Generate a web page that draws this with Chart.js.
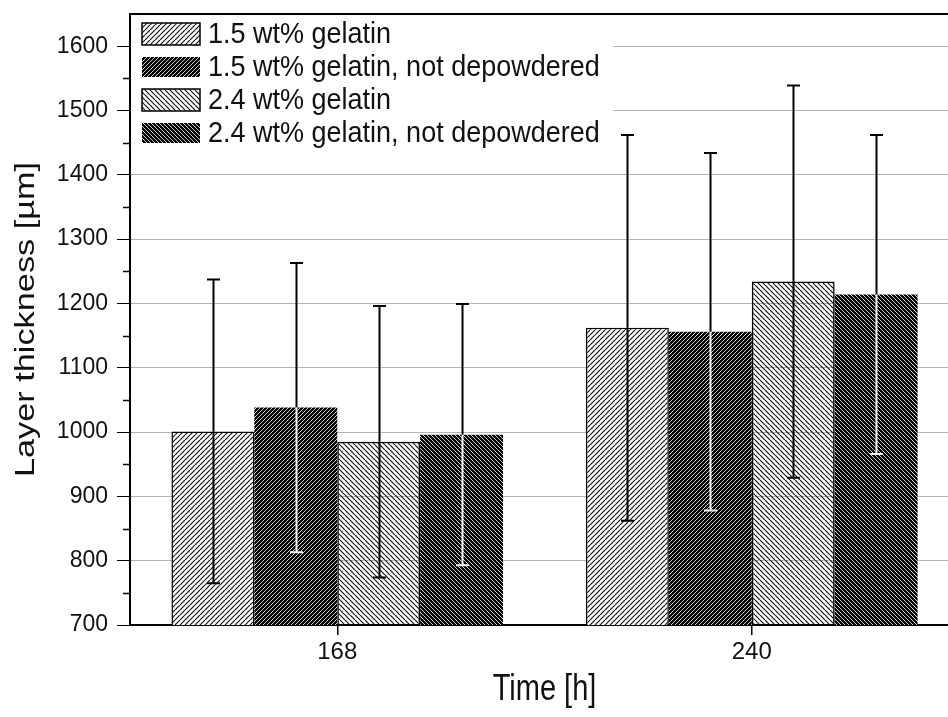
<!DOCTYPE html>
<html>
<head>
<meta charset="utf-8">
<script src="https://cdn.jsdelivr.net/npm/chart.js@4.4.1/dist/chart.umd.min.js"></script>
<style>
  html, body { margin: 0; padding: 0; background: #fff; overflow: hidden; }
  canvas { display: block; }
</style>
</head>
<body>
<canvas id="c" width="960" height="717"></canvas>
<script>
// Layer thickness after immersion, mean and standard deviation per sample set
const categories = ['168', '240'];
const seriesNames = [
  '1.5 wt% gelatin',
  '1.5 wt% gelatin, not depowdered',
  '2.4 wt% gelatin',
  '2.4 wt% gelatin, not depowdered'
];
const gel15 = [1001, 1162];
const gel15Err = [236, 300];
const gel15NotDep = [1038, 1156];
const gel15NotDepErr = [225, 278];
const gel24 = [985, 1234];
const gel24Err = [211, 305];
const gel24NotDep = [996, 1214];
const gel24NotDepErr = [203, 248];
const yTicks = [700, 800, 900, 1000, 1100, 1200, 1300, 1400, 1500, 1600];
const yMinorTicks = [750, 850, 950, 1050, 1150, 1250, 1350, 1450, 1550];
const xTitle = 'Time [h]';
const yTitle = 'Layer thickness [µm]';

const FONT = "'Liberation Sans', Arial, sans-serif";

// diagonal hatch fill; dir '/' or '\\'
function hatch(bg, fg, dir, size, lw) {
  const c = document.createElement('canvas');
  c.width = size; c.height = size;
  const g = c.getContext('2d');
  if (bg) { g.fillStyle = bg; g.fillRect(0, 0, size, size); }
  g.strokeStyle = fg; g.lineWidth = lw;
  g.beginPath();
  for (const k of [-size, 0, size]) {
    if (dir === '/') { g.moveTo(k, size); g.lineTo(k + size, 0); }
    else { g.moveTo(k, 0); g.lineTo(k + size, size); }
  }
  g.stroke();
  return g.createPattern(c, 'repeat');
}

const fills = [
  hatch('#ffffff', '#111', '/', 5, 1.2),
  hatch('#000000', '#e8e8e8', '/', 4, 0.9),
  hatch(null, '#111', '\\', 5, 1.2),
  hatch('#000000', '#e8e8e8', '\\', 4, 0.9)
];
const seriesValues = [gel15, gel15NotDep, gel24, gel24NotDep];
const seriesErrors = [gel15Err, gel15NotDepErr, gel24Err, gel24NotDepErr];
const darkSeries = [false, true, false, true];

const datasets = seriesNames.map((name, i) => ({
  label: name,
  data: seriesValues[i],
  errors: seriesErrors[i],
  dark: darkSeries[i],
  backgroundColor: fills[i],
  borderColor: '#000',
  borderWidth: darkSeries[i] ? 0 : 1.5,
  categoryPercentage: 0.8,
  barPercentage: 1.0
}));

const decorations = {
  id: 'decorations',
  beforeDatasetsDraw(chart) {
    const ctx = chart.ctx;
    const a = chart.chartArea;
    // legend panel blanks the grid behind it
    ctx.save();
    ctx.fillStyle = '#fff';
    ctx.fillRect(a.left + 1, a.top, 613 - a.left - 1, 160 - a.top);
    ctx.restore();
  },
  afterDatasetsDraw(chart) {
    const ctx = chart.ctx;
    const y = chart.scales.y;
    // error bars
    chart.data.datasets.forEach((ds, i) => {
      const meta = chart.getDatasetMeta(i);
      meta.data.forEach((bar, j) => {
        const v = ds.data[j], e = ds.errors[j];
        const yT = y.getPixelForValue(v + e);
        const yB = y.getPixelForValue(v - e);
        const yV = bar.y;
        const x = Math.round(bar.x) + 0.5;
        const cap = 6.5;
        ctx.save();
        ctx.lineWidth = 2;
        ctx.strokeStyle = '#000';
        ctx.beginPath();
        ctx.moveTo(x, yT); ctx.lineTo(x, yV);
        ctx.moveTo(x - cap, yT); ctx.lineTo(x + cap, yT);
        ctx.stroke();
        ctx.strokeStyle = ds.dark ? '#f4f4f4' : '#000';
        ctx.beginPath();
        ctx.moveTo(x, yV); ctx.lineTo(x, yB);
        ctx.moveTo(x - cap, yB); ctx.lineTo(x + cap, yB);
        ctx.stroke();
        ctx.restore();
      });
    });
    // legend
    ctx.save();
    const rows = [34, 67, 100, 133];
    chart.data.datasets.forEach((ds, i) => {
      const cy = rows[i];
      if (ds.dark) {
        ctx.fillStyle = ds.backgroundColor;
        ctx.fillRect(142, cy - 10, 58, 20);
      } else {
        ctx.fillStyle = ds.backgroundColor;
        ctx.fillRect(142, cy - 11, 58, 22);
        ctx.lineWidth = 1.5;
        ctx.strokeStyle = '#000';
        ctx.strokeRect(142, cy - 11, 58, 22);
      }
      ctx.save();
      ctx.fillStyle = '#111';
      ctx.font = '27px ' + FONT;
      ctx.textBaseline = 'middle';
      ctx.textAlign = 'left';
      ctx.translate(208, cy + 1);
      ctx.scale(1, 1.08);
      ctx.fillText(ds.label, 0, 0);
      ctx.restore();
    });
    ctx.restore();
  },
  afterDraw(chart) {
    const ctx = chart.ctx;
    const a = chart.chartArea;
    const y = chart.scales.y;
    ctx.save();
    // top frame
    ctx.strokeStyle = '#000';
    ctx.lineWidth = 2;
    ctx.beginPath();
    ctx.moveTo(a.left - 1, a.top); ctx.lineTo(chart.width, a.top);
    ctx.stroke();
    // minor ticks on the value axis
    ctx.lineWidth = 1.5;
    ctx.beginPath();
    yMinorTicks.forEach(v => {
      const py = Math.round(y.getPixelForValue(v)) + 0.5;
      ctx.moveTo(a.left - 7, py); ctx.lineTo(a.left, py);
    });
    ctx.stroke();
    // axis titles (tall lettering)
    ctx.fillStyle = '#111';
    ctx.textAlign = 'center';
    ctx.textBaseline = 'middle';
    ctx.save();
    ctx.font = '29px ' + FONT;
    ctx.translate((a.left + a.right) / 2, 690);
    ctx.scale(1, 1.25);
    ctx.fillText(xTitle, 0, 0);
    ctx.restore();
    ctx.save();
    ctx.font = '27px ' + FONT;
    ctx.translate(27, (a.top + a.bottom) / 2);
    ctx.rotate(-Math.PI / 2);
    ctx.scale(1.27, 1);
    ctx.fillText(yTitle, 0, 0);
    ctx.restore();
    ctx.restore();
  }
};

new Chart(document.getElementById('c'), {
  type: 'bar',
  data: { labels: categories, datasets },
  options: {
    responsive: false,
    animation: false,
    devicePixelRatio: 1,
    layout: { padding: { top: 14, right: 1, left: 0, bottom: 0 } },
    plugins: { legend: { display: false }, tooltip: { enabled: false } },
    scales: {
      x: {
        offset: true,
        grid: { offset: false, drawOnChartArea: false, tickLength: 10, tickColor: '#000', lineWidth: 1.5 },
        border: { color: '#000', width: 2 },
        ticks: { color: '#111', font: { family: FONT, size: 24 }, padding: 3, maxRotation: 0 },
        afterFit(s) { s.height = 92; s.paddingLeft = 0; s.paddingRight = 0; }
      },
      y: {
        min: 700,
        max: 1650,
        afterBuildTicks(s) { s.ticks = yTicks.map(v => ({ value: v })); },
        grid: { color: '#b4b4b4', lineWidth: 1, tickLength: 13, tickColor: '#000' },
        border: { color: '#000', width: 2 },
        ticks: {
          color: '#111',
          font: { family: FONT, size: 23 },
          padding: 9,
          callback: v => String(v)
        },
        afterFit(s) { s.width = 130; s.paddingTop = 0; s.paddingBottom = 0; }
      }
    }
  },
  plugins: [decorations]
});
</script>
</body>
</html>
